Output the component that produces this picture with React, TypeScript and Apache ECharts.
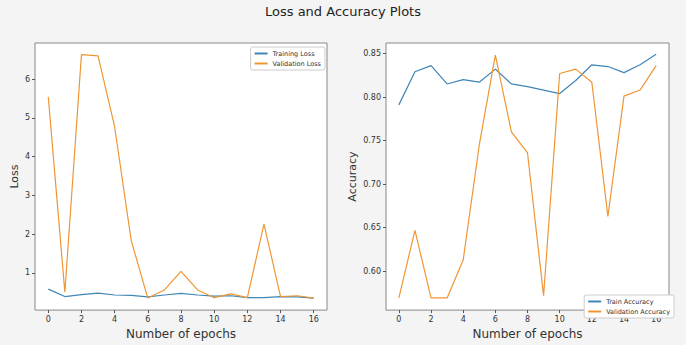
import React, { useEffect, useRef } from "react";
import * as echarts from "echarts";

const epochs = [0, 1, 2, 3, 4, 5, 6, 7, 8, 9, 10, 11, 12, 13, 14, 15, 16];
const trainLoss = [0.58, 0.39, 0.44, 0.48, 0.43, 0.42, 0.38, 0.43, 0.47, 0.43, 0.4, 0.41, 0.36, 0.36, 0.39, 0.38, 0.35];
const valLoss = [5.54, 0.5, 6.63, 6.6, 4.77, 1.83, 0.35, 0.56, 1.04, 0.56, 0.36, 0.46, 0.36, 2.26, 0.39, 0.41, 0.35];
const trainAcc = [0.791, 0.829, 0.836, 0.815, 0.82, 0.817, 0.832, 0.815, 0.812, 0.808, 0.804, 0.819, 0.837, 0.835, 0.828, 0.837, 0.849];
const valAcc = [0.5695, 0.647, 0.5695, 0.5695, 0.613, 0.745, 0.848, 0.76, 0.736, 0.572, 0.827, 0.832, 0.817, 0.663, 0.801, 0.808, 0.836];
const xTicks = [0, 2, 4, 6, 8, 10, 12, 14, 16];
const lossTicks = [1, 2, 3, 4, 5, 6];
const accTicks = [0.6, 0.65, 0.7, 0.75, 0.8, 0.85];

const BLUE = "#3f86b6";
const ORANGE = "#ee9634";
const FONT = "DejaVu Sans";

export default function App() {
  const ref = useRef<HTMLDivElement>(null);
  useEffect(() => {
    if (!ref.current) return;
    const chart = echarts.init(ref.current, undefined, { renderer: "svg" });
    const pairs = (ys: number[]) => epochs.map((e, i) => [e, ys[i]]);
    const xAxisBase = (gridIndex: number) => ({
      type: "value" as const,
      gridIndex,
      min: -0.8,
      max: 16.8,
      name: "Number of epochs",
      nameLocation: "middle" as const,
      nameGap: 17,
      nameTextStyle: { fontSize: 12, color: "#333", fontFamily: FONT },
      axisLine: { show: false, onZero: false },
      splitLine: { show: false },
      axisTick: { show: true, length: 3, customValues: xTicks, lineStyle: { color: "#555" } },
      axisLabel: { customValues: xTicks, fontSize: 8, color: "#333", margin: 5, fontFamily: FONT },
    });
    const legendBase = {
      orient: "vertical",
      itemWidth: 13,
      itemHeight: 2,
      itemGap: 3,
      icon: "rect",
      padding: [3, 4, 3, 4],
      borderColor: "#ccc",
      borderWidth: 1,
      borderRadius: 2,
      backgroundColor: "#fff",
      textStyle: { fontSize: 6.5, color: "#333", fontFamily: FONT },
    };
    const option: any = {
      animation: false,
      backgroundColor: "#f4f4f4",
      textStyle: { fontFamily: FONT },
      title: {
        text: "Loss and Accuracy Plots",
        left: "center",
        top: 0,
        textStyle: { fontSize: 13, fontWeight: "normal", color: "#222", fontFamily: FONT },
      },
      grid: [
        { left: 35, top: 43, width: 292, height: 278, show: true, backgroundColor: "#fff", borderColor: "#888", borderWidth: 1 },
        { left: 386, top: 43, width: 283, height: 278, show: true, backgroundColor: "#fff", borderColor: "#888", borderWidth: 1 },
      ],
      xAxis: [xAxisBase(0), xAxisBase(1)],
      yAxis: [
        {
          type: "value",
          gridIndex: 0,
          min: 0.04,
          max: 6.93,
          name: "Loss",
          nameLocation: "middle",
          nameGap: 15,
          nameTextStyle: { fontSize: 11, color: "#333", fontFamily: FONT },
          axisLine: { show: false, onZero: false },
          splitLine: { show: false },
          axisTick: { show: true, length: 3, customValues: lossTicks, lineStyle: { color: "#555" } },
          axisLabel: { customValues: lossTicks, fontSize: 8, color: "#333", margin: 5, fontFamily: FONT },
        },
        {
          type: "value",
          gridIndex: 1,
          min: 0.5555,
          max: 0.862,
          name: "Accuracy",
          nameLocation: "middle",
          nameGap: 28,
          nameTextStyle: { fontSize: 11, color: "#333", fontFamily: FONT },
          axisLine: { show: false, onZero: false },
          splitLine: { show: false },
          axisTick: { show: true, length: 3, customValues: accTicks, lineStyle: { color: "#555" } },
          axisLabel: {
            customValues: accTicks,
            fontSize: 8,
            color: "#333",
            margin: 5,
            fontFamily: FONT,
            formatter: (v: number) => v.toFixed(2),
          },
        },
      ],
      legend: [
        { ...legendBase, data: ["Training Loss", "Validation Loss"], right: 361, top: 47 },
        { ...legendBase, data: ["Train Accuracy", "Validation Accuracy"], right: 12, bottom: 27 },
      ],
      series: [
        { name: "Training Loss", type: "line", xAxisIndex: 0, yAxisIndex: 0, data: pairs(trainLoss), showSymbol: false, symbol: "none", color: BLUE, lineStyle: { width: 1.2, color: BLUE } },
        { name: "Validation Loss", type: "line", xAxisIndex: 0, yAxisIndex: 0, data: pairs(valLoss), showSymbol: false, symbol: "none", color: ORANGE, lineStyle: { width: 1.2, color: ORANGE } },
        { name: "Train Accuracy", type: "line", xAxisIndex: 1, yAxisIndex: 1, data: pairs(trainAcc), showSymbol: false, symbol: "none", color: BLUE, lineStyle: { width: 1.2, color: BLUE } },
        { name: "Validation Accuracy", type: "line", xAxisIndex: 1, yAxisIndex: 1, data: pairs(valAcc), showSymbol: false, symbol: "none", color: ORANGE, lineStyle: { width: 1.2, color: ORANGE } },
      ],
    };
    chart.setOption(option);
    return () => chart.dispose();
  }, []);
  return <div ref={ref} style={{ position: "fixed", left: 0, top: 0, width: 686, height: 345 }} />;
}
